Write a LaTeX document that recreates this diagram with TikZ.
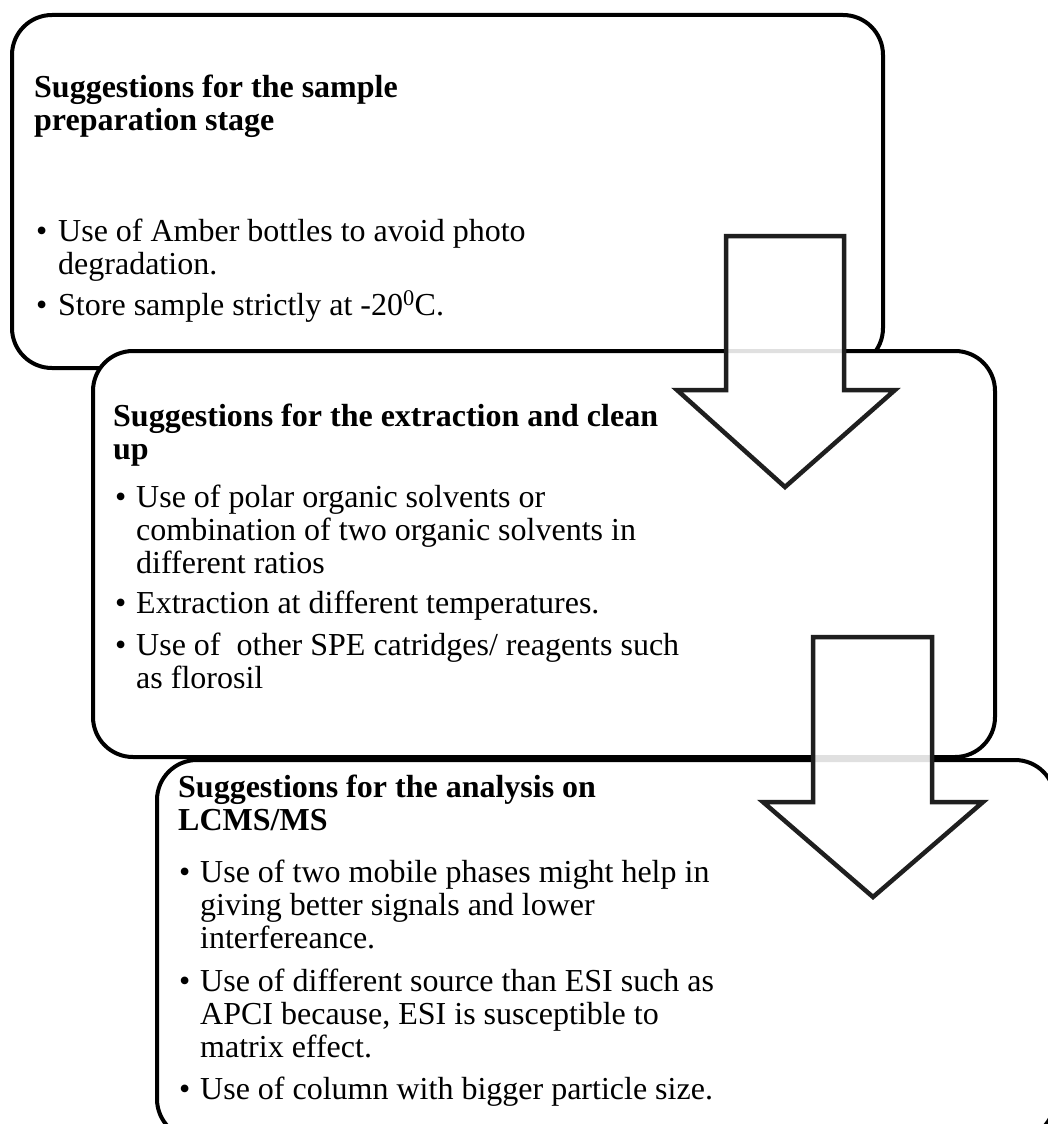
\documentclass[tikz,border=0pt]{standalone}
\usepackage{fontspec}
\setmainfont{Liberation Serif}
\begin{document}
\begin{tikzpicture}[x=1pt,y=-1pt,
  box/.style={draw=black, line width=4pt, fill=white, rounded corners=40pt, inner sep=0pt},
  blockarrow/.style={draw=black!88, line width=4.5pt, fill=white, fill opacity=0.88, line join=miter},
  hd/.style={anchor=base west, inner sep=0pt, font=\fontsize{32}{33}\selectfont\bfseries},
  ln/.style={anchor=base west, inner sep=0pt, font=\fontsize{32}{33}\selectfont},
  bul/.style={anchor=base west, inner sep=0pt, font=\fontsize{32}{33}\selectfont}]
\useasboundingbox (0,0) rectangle (1048,1124);

% ---------- Box 1 ----------
\draw[box] (12,15) rectangle (883,368);
\node[hd] (h1a) at (34,97) {Suggestions for the sample};
\node[hd] (h1b) at (34,130) {preparation stage};
\node[bul] (b1a) at (36,241) {\textbullet};
\node[ln] (t1a) at (58,241) {Use of Amber bottles to avoid photo};
\node[ln] (t1b) at (58,274) {degradation.};
\node[bul] (b1b) at (36,315) {\textbullet};
\node[ln] (t1c) at (58,315) {Store sample strictly at -20\textsuperscript{0}C.};

% ---------- Box 2 ----------
\draw[box] (93,351) rectangle (995,757);
\node[hd] (h2a) at (113,426) {Suggestions for the extraction and clean};
\node[hd] (h2b) at (113,459) {up};
\node[bul] (b2a) at (115,507) {\textbullet};
\node[ln] (t2a) at (136,507) {Use of polar organic solvents or};
\node[ln] (t2b) at (136,540) {combination of two organic solvents in};
\node[ln] (t2c) at (136,573) {different ratios};
\node[bul] (b2b) at (115,613) {\textbullet};
\node[ln] (t2d) at (136,613) {Extraction at different temperatures.};
\node[bul] (b2c) at (115,655) {\textbullet};
\node[ln] (t2e) at (136,655) {Use of\ \ other SPE catridges/ reagents such};
\node[ln] (t2f) at (136,688) {as florosil};

% ---------- Arrow 1 ----------
\draw[blockarrow] (726,236) -- (844,236) -- (844,390) -- (895,390) -- (785,487)
   -- (677,390) -- (726,390) -- cycle;

% ---------- Box 3 ----------
\draw[box] (157,760) rectangle (1055,1139);
\node[hd] (h3a) at (178,797) {Suggestions for the analysis on};
\node[hd] (h3b) at (178,830) {LCMS/MS};
\node[bul] (b3a) at (179,882) {\textbullet};
\node[ln] (t3a) at (200,882) {Use of two mobile phases might help in};
\node[ln] (t3b) at (200,915) {giving better signals and lower};
\node[ln] (t3c) at (200,948) {interfereance.};
\node[bul] (b3b) at (179,991) {\textbullet};
\node[ln] (t3d) at (200,991) {Use of different source than ESI such as};
\node[ln] (t3e) at (200,1024) {APCI because, ESI is susceptible to};
\node[ln] (t3f) at (200,1057) {matrix effect.};
\node[bul] (b3c) at (179,1099) {\textbullet};
\node[ln] (t3g) at (200,1099) {Use of column with bigger particle size.};

% ---------- Arrow 2 ----------
\draw[blockarrow] (813,637) -- (932,637) -- (932,802) -- (983,802) -- (873,897)
   -- (763,802) -- (813,802) -- cycle;
\end{tikzpicture}
\end{document}
